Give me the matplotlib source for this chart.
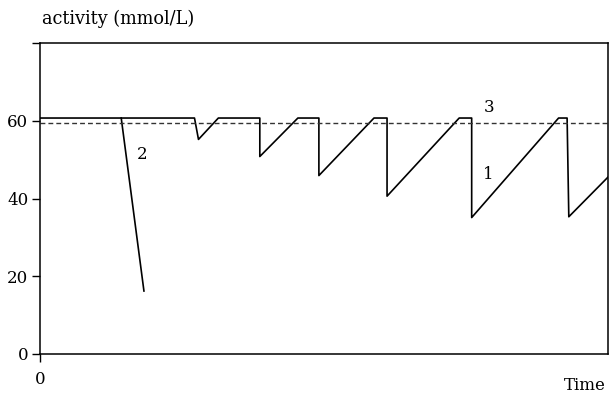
import matplotlib.pyplot as plt

# curve 1: dosing cycles (time in % of span, activity in mmol/L)
t1 = [0, 27.2, 27.9, 31.4, 38.7, 38.7, 45.4, 49.1, 49.1, 58.8, 61.1, 61.1,
      73.8, 76.0, 76.0, 91.3, 92.8, 93.1, 100]
a1 = [60.7, 60.7, 55.2, 60.7, 60.7, 50.8, 60.7, 60.7, 45.9, 60.7, 60.7, 40.6,
      60.7, 60.7, 35.1, 60.7, 60.7, 35.3, 45.5]
# curve 2: single fall
t2 = [14.3, 18.3]
a2 = [60.7, 16.2]
# curve 3: threshold
t3 = [0, 100]
a3 = [59.3, 59.3]

yticks = [0, 20, 40, 60, 80]
yticklabels = ['0', '20', '40', '60', '']

plt.rcParams['font.family'] = ['DejaVu Serif']
fs = 12

fig = plt.figure(figsize=(6.1, 3.96), dpi=100)
ax = fig.add_axes([40/610, 42/396, 568/610, 311/396])

ax.plot(t1, a1, color='black', lw=1.2)
ax.plot(t2, a2, color='black', lw=1.2)
ax.plot(t3, a3, color='#333333', lw=1.0, ls=(0, (3.5, 2.2)))

ax.text(17.9, 51.2, '2', fontsize=fs, ha='center', va='center')
ax.text(79.0, 63.4, '3', fontsize=fs, ha='center', va='center')
ax.text(79.0, 46.2, '1', fontsize=fs, ha='center', va='center')

ax.set_xlim(0, 100)
ax.set_ylim(0, 80)
ax.set_yticks(yticks)
ax.set_yticklabels(yticklabels, fontsize=fs)
ax.set_xticks([0])
ax.set_xticklabels(['0'], fontsize=fs)
ax.tick_params(axis='y', direction='out', length=5.5, width=1, pad=3)
ax.tick_params(axis='x', direction='out', length=6, width=1, pad=6)
for s in ax.spines.values():
    s.set_linewidth(1.1)

fig.text(42/610, 1 - 19/396, 'activity (mmol/L)', fontsize=fs + 0.8, va='center', ha='left')
fig.text(606/610, 1 - 385/396, 'Time', fontsize=fs, va='center', ha='right')

fig.savefig('out.png', dpi=100)
